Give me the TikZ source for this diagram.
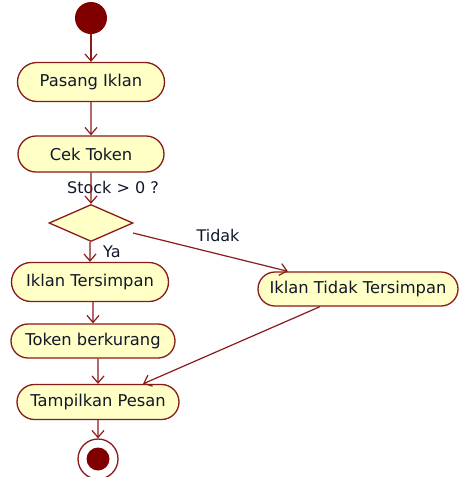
\documentclass[tikz,border=0pt]{standalone}
\usepackage{fontspec}
\setmainfont{DejaVu Sans}
\usetikzlibrary{shapes.misc,shapes.geometric,arrows.meta}
\definecolor{edge}{HTML}{8B1A1A}
\definecolor{actfill}{HTML}{FFFFC6}
\definecolor{dot}{HTML}{800000}
\definecolor{ink}{HTML}{10182A}
\tikzset{
  act/.style={rounded rectangle, draw=edge, line width=1.3pt, fill=actfill,
    minimum height=#1, inner xsep=3pt, text=ink, font=\fontsize{16.3}{19}\selectfont},
  act/.default=37pt,
  flow/.style={draw=edge, line width=1.2pt, -{Straight Barb[length=7pt,width=12pt]}},
  lbl/.style={font=\fontsize{16}{19}\selectfont, text=ink, inner sep=0pt},
  choice/.style={diamond, draw=edge, line width=1.3pt, fill=actfill, aspect=2.27,
    minimum width=84pt, minimum height=37pt, inner sep=0pt}
}
\begin{document}
\begin{tikzpicture}[x=1pt,y=-1pt]
\useasboundingbox[fill=white] (0,0) rectangle (461,477);
% start and end points
\node[circle, fill=dot, minimum size=32pt, inner sep=0pt] (start) at (91,18) {};
\node[circle, draw=edge, line width=1.3pt, fill=white, minimum size=40pt, inner sep=0pt] (stop) at (98,459) {};
\node[circle, fill=dot, minimum size=23pt, inner sep=0pt] at (stop) {};
% activities
\node[act=39pt, minimum width=153pt] (pasang) at (91,82) {Pasang Iklan};
\node[act=36pt, minimum width=152pt] (cek) at (91,154) {Cek Token};
\node[choice] (dec) at (91,223) {};
\node[act=39pt, minimum width=163pt] (simpan) at (90,282) {Iklan Tersimpan};
\node[act=34pt, minimum width=170pt] (token) at (93,341) {Token berkurang};
\node[act=35pt, minimum width=168pt] (tampil) at (98,402) {Tampilkan Pesan};
\node[act=34pt, minimum width=206pt] (gagal) at (358,289) {Iklan Tidak Tersimpan};
% guard labels
\node[lbl] (guard) at (113,188) {Stock > 0 ?};
\node[lbl, anchor=west] (ya) at (103,252) {Ya};
\node[lbl] (tidak) at (218,236) {Tidak};
% flows
\draw[flow] (start) -- (pasang);
\draw[flow] (pasang) -- (cek);
\draw[flow] (cek) -- (dec);
\draw[flow] (dec.south -| simpan) -- (simpan);
\draw[flow] (simpan.south -| token) -- (token);
\draw[flow] (token.south -| tampil) -- (tampil);
\draw[flow] (tampil) -- (stop);
\coordinate (decout) at (133,233);
\draw[flow] (decout) -- (gagal.north west -| 288,0);
\draw[flow] (gagal.south -| 320,0) -- (tampil.north -| 143,0);
\end{tikzpicture}
\end{document}
